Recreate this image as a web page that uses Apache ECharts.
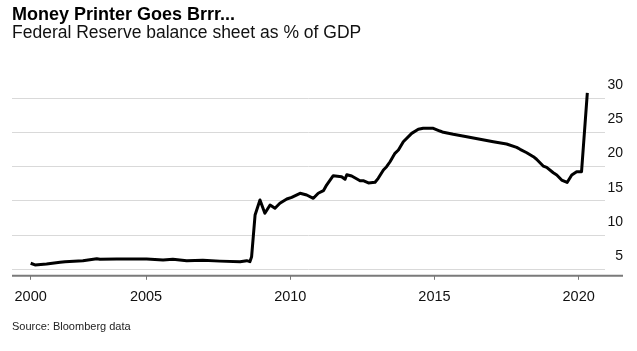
<!DOCTYPE html>
<html>
<head>
<meta charset="utf-8">
<script src="https://cdn.jsdelivr.net/npm/echarts@6/dist/echarts.min.js"></script>
<style>
html,body{margin:0;padding:0;background:#fff;}
#chart{width:637px;height:351px;}
</style>
</head>
<body>
<div id="chart"></div>
<script>
// Position along the time axis (decimal year positions as drawn in the reference)
const years = [
  2001.0, 2001.15, 2001.55, 2002.02, 2002.19, 2002.81, 2003.29, 2003.40, 2003.98, 2005.02,
  2005.59, 2005.93, 2006.41, 2006.97, 2007.56, 2008.26, 2008.49, 2008.60, 2008.66, 2008.78,
  2008.95, 2009.12, 2009.30, 2009.47, 2009.64, 2009.88, 2010.05, 2010.34, 2010.57, 2010.80,
  2010.97, 2011.15, 2011.26, 2011.49, 2011.78, 2011.90, 2011.96, 2012.13, 2012.42, 2012.53,
  2012.71, 2012.94, 2013.05, 2013.23, 2013.34, 2013.46, 2013.63, 2013.75, 2013.92, 2013.98,
  2014.21, 2014.44, 2014.61, 2014.96, 2015.19, 2015.31, 2015.65, 2016.12, 2016.58, 2017.04,
  2017.50, 2017.85, 2017.97, 2018.20, 2018.43, 2018.54, 2018.77, 2018.89, 2019.12, 2019.24,
  2019.41, 2019.60, 2019.76, 2019.93, 2019.99, 2020.10, 2020.15, 2020.30
];
// Fed balance sheet as % of GDP
const balancePct = [
  5.84, 5.59, 5.73, 5.98, 6.07, 6.22, 6.51, 6.42, 6.46, 6.46,
  6.32, 6.42, 6.22, 6.27, 6.15, 6.07, 6.22, 6.07, 6.8, 12.9,
  15.1, 13.16, 14.37, 13.89, 14.62, 15.25, 15.5, 16.09, 15.84, 15.35,
  16.09, 16.47, 17.3, 18.66, 18.52, 18.14, 18.81, 18.62, 17.93, 17.93,
  17.6, 17.7, 18.28, 19.5, 19.98, 20.71, 21.94, 22.43, 23.64, 23.89,
  24.87, 25.46, 25.61, 25.61, 25.21, 25.02, 24.73, 24.38, 24.0, 23.64,
  23.31, 22.82, 22.53, 22.03, 21.45, 21.07, 20.08, 19.89, 19.1, 18.77,
  18.03, 17.67, 18.77, 19.25, 19.5, 19.25, 19.25, 30.8
];
const xTickPositions = [2001, 2005, 2010, 2015, 2020];
const xTickLabels = ['2000', '2005', '2010', '2015', '2020'];
const yTicks = [5, 10, 15, 20, 25, 30];

const font = '"Liberation Sans", Arial, Helvetica, sans-serif';
const chart = echarts.init(document.getElementById('chart'), null, {renderer: 'canvas'});

const xMin = 2000.352, xMax = 2020.913;

chart.setOption({
  animation: false,
  backgroundColor: '#fff',
  textStyle: {fontFamily: font},
  title: [
    {text: 'Money Printer Goes Brrr...', left: 12, top: 6, padding: 0,
     textStyle: {fontFamily: font, fontSize: 18, fontWeight: 'bold', color: '#000'}},
    {text: 'Federal Reserve balance sheet as % of GDP', left: 12, top: 24, padding: 0,
     textStyle: {fontFamily: font, fontSize: 17.5, fontWeight: 'normal', color: '#111'}},
    {text: 'Source: Bloomberg data', left: 12, top: 321.5, padding: 0,
     textStyle: {fontFamily: font, fontSize: 11, fontWeight: 'normal', color: '#222'}}
  ],
  grid: {left: 12, right: 32, top: 91.5, bottom: 75.2, containLabel: false},
  xAxis: {
    type: 'value', min: xMin, max: xMax,
    axisLine: {show: false},
    axisTick: {show: true, customValues: xTickPositions, length: 4, inside: false,
               lineStyle: {color: '#777', width: 1}},
    axisLabel: {customValues: xTickPositions, margin: 14, fontSize: 14.5, color: '#111', fontFamily: font,
                formatter: function (v) { const i = xTickPositions.indexOf(v); return i >= 0 ? xTickLabels[i] : ''; }},
    splitLine: {show: false}
  },
  yAxis: {
    type: 'value', position: 'right', min: 4, max: 31,
    axisLine: {show: false},
    axisTick: {show: false, customValues: yTicks},
    axisLabel: {customValues: yTicks, align: 'right', margin: 18, fontSize: 14, color: '#111', fontFamily: font,
                verticalAlign: 'bottom', lineHeight: 26},
    splitLine: {show: true, lineStyle: {color: '#d9d9d9', width: 1}}
  },
  series: [{
    type: 'line',
    data: years.map((y, i) => [y, balancePct[i]]),
    showSymbol: false,
    clip: false,
    lineStyle: {color: '#000', width: 3, join: 'round'}
  }]
});

const p0 = chart.convertToPixel({gridIndex: 0}, [xMin, 4]);
chart.setOption({
  graphic: [{
    type: 'line', silent: true,
    shape: {x1: p0[0], y1: p0[1], x2: 623, y2: p0[1]},
    style: {stroke: '#7a7a7a', lineWidth: 2}
  }]
});
</script>
</body>
</html>
